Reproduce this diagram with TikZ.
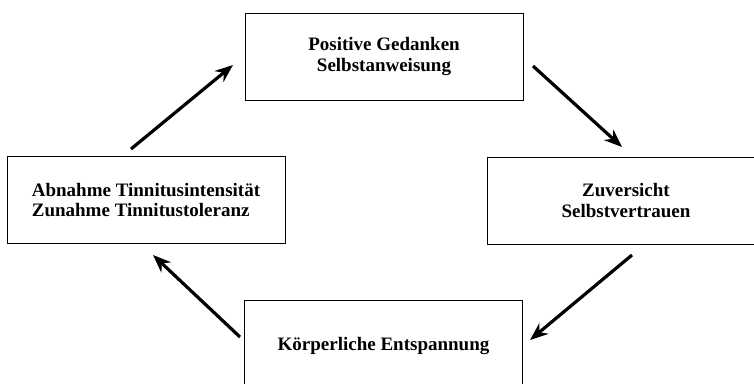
\documentclass[tikz,border=0pt]{standalone}
\usepackage{fontspec}
\setmainfont{Liberation Serif}
\usetikzlibrary{arrows.meta}
\begin{document}
\begin{tikzpicture}[x=1pt,y=-1pt,
  stage/.style={draw=black, line width=1pt, minimum width=278pt, minimum height=87pt,
    inner sep=0pt, font=\fontsize{19}{20.5}\selectfont\bfseries},
  flow/.style={line width=3.2pt, -{Stealth[length=18pt,width=14pt]}}]
  \useasboundingbox (0,0) rectangle (754,383);
  \clip (0,0) rectangle (754,383);
  \fill[white] (0,0) rectangle (754,383);

  % the four stages of the cycle
  \node[stage, align=center] (gedanken) at (384,56.5) {Positive Gedanken\\Selbstanweisung};
  \node[stage, align=center] (zuversicht) at (626,200.5) {Zuversicht\\Selbstvertrauen};
  \node[stage] (entspannung) at (383.5,344) {};
  \node[font=\fontsize{19}{20.5}\selectfont\bfseries] (entspannungtext) at (383.5,346) {Körperliche Entspannung};
  \node[stage, align=left] (tinnitus) at (146,200) {Abnahme Tinnitusintensität\\Zunahme Tinnitustoleranz};

  % arrow end points between the boxes
  \coordinate (a1) at (131,149);
  \coordinate (b1) at (233,65);
  \coordinate (a2) at (533,66);
  \coordinate (b2) at (622,147);
  \coordinate (a3) at (632,255);
  \coordinate (b3) at (530,340);
  \coordinate (a4) at (240,337);
  \coordinate (b4) at (153,255);

  \draw[flow] (a1) -- (b1);
  \draw[flow] (a2) -- (b2);
  \draw[flow] (a3) -- (b3);
  \draw[flow] (a4) -- (b4);
\end{tikzpicture}
\end{document}
